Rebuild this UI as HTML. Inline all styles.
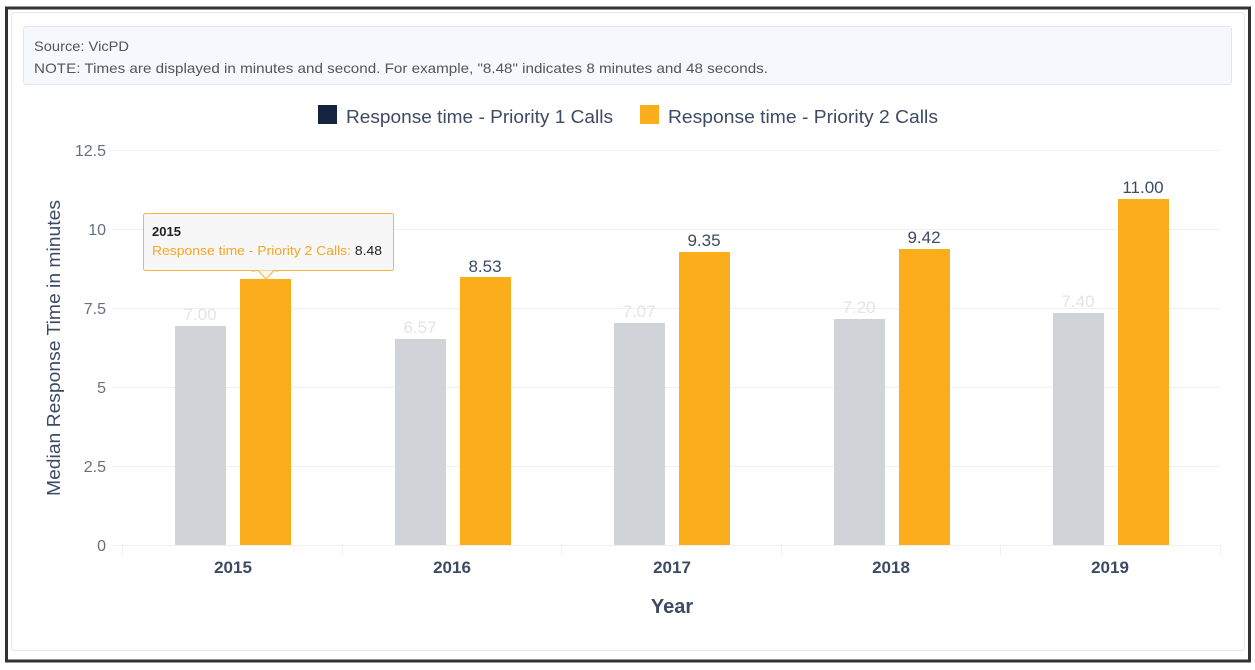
<!DOCTYPE html>
<html><head><meta charset="utf-8"><style>
body{margin:0;background:#fff;}
svg{display:block;font-family:"Liberation Sans",sans-serif;}
</style></head><body>
<svg width="1255" height="670" xmlns="http://www.w3.org/2000/svg">
<rect x="0" y="0" width="1255" height="670" fill="#fff"/>
<rect x="6.5" y="8" width="1243" height="653" fill="none" stroke="#333" stroke-width="3"/>
<rect x="11.5" y="12.5" width="1233" height="638" rx="3" fill="#fff" stroke="#e6e6e6"/>
<rect x="23.5" y="26.5" width="1208" height="58" rx="3" fill="#f6f8fd" stroke="#dbe6f6"/>
<text x="34" y="51" font-size="14" fill="#555" textLength="95" lengthAdjust="spacingAndGlyphs">Source: VicPD</text>
<text x="34" y="73" font-size="14" fill="#555" textLength="734" lengthAdjust="spacingAndGlyphs">NOTE: Times are displayed in minutes and second. For example, "8.48" indicates 8 minutes and 48 seconds.</text>
<rect x="318" y="105" width="19" height="19" fill="#14233f"/>
<text x="346" y="123" font-size="18" fill="#3d4a63" textLength="267" lengthAdjust="spacingAndGlyphs">Response time - Priority 1 Calls</text>
<rect x="640" y="105" width="19" height="19" fill="#fcad1b"/>
<text x="668" y="123" font-size="18" fill="#3d4a63" textLength="270" lengthAdjust="spacingAndGlyphs">Response time - Priority 2 Calls</text>
<g stroke="#f0f0f0" stroke-width="1">
<line x1="112" y1="150.5" x2="1220" y2="150.5"/>
<line x1="112" y1="229.5" x2="1220" y2="229.5"/>
<line x1="112" y1="308.5" x2="1220" y2="308.5"/>
<line x1="112" y1="387.5" x2="1220" y2="387.5"/>
<line x1="112" y1="466.5" x2="1220" y2="466.5"/>
<line x1="112" y1="545.5" x2="1220" y2="545.5"/>
<line x1="122.5" y1="545" x2="122.5" y2="556"/>
<line x1="342.5" y1="545" x2="342.5" y2="556"/>
<line x1="561.5" y1="545" x2="561.5" y2="556"/>
<line x1="781.5" y1="545" x2="781.5" y2="556"/>
<line x1="1000.5" y1="545" x2="1000.5" y2="556"/>
<line x1="1220.5" y1="545" x2="1220.5" y2="556"/>
</g>
<g font-size="16" fill="#666f80" text-anchor="end">
<text x="106" y="156">12.5</text><text x="106" y="235">10</text><text x="106" y="314">7.5</text>
<text x="106" y="393">5</text><text x="106" y="472">2.5</text><text x="106" y="551">0</text>
</g>
<text transform="translate(60,348) rotate(-90)" text-anchor="middle" font-size="18" fill="#3d4a63" textLength="296" lengthAdjust="spacingAndGlyphs">Median Response Time in minutes</text>
<g fill="#d0d3d8">
<rect x="175" y="326" width="51" height="219"/>
<rect x="395" y="339" width="51" height="206"/>
<rect x="614" y="323" width="51" height="222"/>
<rect x="834" y="319" width="51" height="226"/>
<rect x="1053" y="313" width="51" height="232"/>
</g>
<g fill="#fcad1b">
<rect x="240" y="279" width="51" height="266"/>
<rect x="460" y="277" width="51" height="268"/>
<rect x="679" y="252" width="51" height="293"/>
<rect x="899" y="249" width="51" height="296"/>
<rect x="1118" y="199" width="51" height="346"/>
</g>
<g font-size="17" text-anchor="middle" fill="#e2e4e8">
<text x="200" y="320">7.00</text><text x="420" y="333">6.57</text><text x="639" y="317">7.07</text>
<text x="859" y="313">7.20</text><text x="1078" y="307">7.40</text>
</g>
<g font-size="17" text-anchor="middle" fill="#3d4a63">
<text x="485" y="272">8.53</text><text x="704" y="246">9.35</text>
<text x="924" y="243">9.42</text><text x="1143" y="193">11.00</text>
</g>
<text x="265" y="272" font-size="17" text-anchor="middle" fill="#ddd">8.48</text>
<g font-size="17" font-weight="bold" text-anchor="middle" fill="#3d4a63">
<text x="233" y="573">2015</text><text x="452" y="573">2016</text><text x="672" y="573">2017</text>
<text x="891" y="573">2018</text><text x="1110" y="573">2019</text>
</g>
<text x="672" y="613" font-size="20" font-weight="bold" text-anchor="middle" fill="#3d4a63">Year</text>
<rect x="143.5" y="213.5" width="250" height="57" rx="2" fill="#f7f7f7" fill-opacity="0.95" stroke="#f5b63a"/>
<path d="M258 270.5 L266 279 L274 270.5" fill="#f7f7f7" stroke="#f5b63a"/>
<text x="152" y="236" font-size="13" font-weight="bold" fill="#222">2015</text>
<text x="152" y="255" font-size="13" fill="#f5a623" textLength="230" lengthAdjust="spacingAndGlyphs">Response time - Priority 2 Calls: <tspan fill="#222">8.48</tspan></text>
</svg>
</body></html>
